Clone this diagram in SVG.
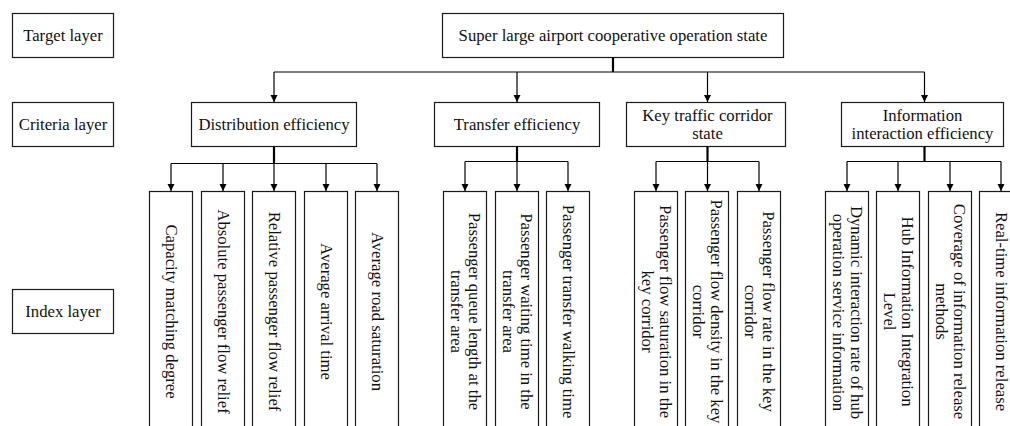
<svg xmlns="http://www.w3.org/2000/svg" width="1010" height="426" viewBox="0 0 1010 426">
<defs>
<marker id="ah" markerUnits="userSpaceOnUse" markerWidth="8" markerHeight="8" refX="7" refY="3.5" orient="auto"><path d="M0,0 L7,3.5 L0,7 z" fill="#000"/></marker>
<style>
rect{fill:#fff;stroke:#1a1a1a;stroke-width:1.2}
text{font-family:"Liberation Serif","Times New Roman",serif;font-size:16.7px;fill:#111;text-anchor:middle}
.c{fill:none;stroke:#000;stroke-width:1.2}
.s{fill:none;stroke:#000;stroke-width:2.2}
.a{marker-end:url(#ah)}
</style>
</defs>
<rect width="1010" height="426" style="fill:#fff;stroke:none"/>
<g id="layer-target"><rect x="12.5" y="13.5" width="101" height="44"/><text x="63" y="40.5">Target layer</text></g>
<g id="layer-criteria"><rect x="12.5" y="102.5" width="101" height="44"/><text x="63" y="129.5">Criteria layer</text></g>
<g id="layer-index"><rect x="12.5" y="289.5" width="101" height="44"/><text x="63" y="316.5">Index layer</text></g>

<g id="goal"><rect x="442.5" y="13.5" width="341" height="44"/><text x="613" y="40.5">Super large airport cooperative operation state</text></g>

<g id="c1"><rect x="191.5" y="102.5" width="165" height="44"/><text x="274" y="129.5">Distribution efficiency</text></g>
<g id="c2"><rect x="434.5" y="102.5" width="165" height="44"/><text x="517" y="129.5">Transfer efficiency</text></g>
<g id="c3"><rect x="626.5" y="102.5" width="159" height="44"/><text x="707.5" y="120.5">Key traffic corridor</text><text x="707.5" y="138.5">state</text></g>
<g id="c4"><rect x="841.5" y="102.5" width="162" height="44"/><text x="922.5" y="120.5">Information</text><text x="922.5" y="138.5">interaction efficiency</text></g>

<g id="i1"><rect x="149.5" y="191.5" width="43" height="250"/><text transform="translate(171,311.5) rotate(90)" y="5">Capacity matching degree</text></g>
<g id="i2"><rect x="201.5" y="191.5" width="43" height="250"/><text transform="translate(223,311.5) rotate(90)" y="5">Absolute passenger flow relief</text></g>
<g id="i3"><rect x="252.5" y="191.5" width="43" height="250"/><text transform="translate(274,311.5) rotate(90)" y="5">Relative passenger flow relief</text></g>
<g id="i4"><rect x="304.5" y="191.5" width="43" height="250"/><text transform="translate(326,311.5) rotate(90)" y="5">Average arrival time</text></g>
<g id="i5"><rect x="355.5" y="191.5" width="43" height="250"/><text transform="translate(377,311.5) rotate(90)" y="5">Average road saturation</text></g>

<g id="i6"><rect x="443.5" y="191.5" width="43" height="250"/><text transform="translate(465,311.5) rotate(90)"><tspan x="0" y="-4">Passenger queue length at the</tspan><tspan x="0" y="14.5">transfer area</tspan></text></g>
<g id="i7"><rect x="495.5" y="191.5" width="43" height="250"/><text transform="translate(517,311.5) rotate(90)"><tspan x="0" y="-4">Passenger waiting time in the</tspan><tspan x="0" y="14.5">transfer area</tspan></text></g>
<g id="i8"><rect x="546.5" y="191.5" width="43" height="250"/><text transform="translate(568,311.5) rotate(90)" y="5">Passenger transfer walking time</text></g>

<g id="i9"><rect x="634.5" y="191.5" width="43" height="250"/><text transform="translate(656,311.5) rotate(90)"><tspan x="0" y="-4">Passenger flow saturation in the</tspan><tspan x="0" y="14.5">key corridor</tspan></text></g>
<g id="i10"><rect x="685.5" y="191.5" width="43" height="250"/><text transform="translate(707,311.5) rotate(90)"><tspan x="0" y="-4">Passenger flow density in the key</tspan><tspan x="0" y="14.5">corridor</tspan></text></g>
<g id="i11"><rect x="737.5" y="191.5" width="43" height="250"/><text transform="translate(759,311.5) rotate(90)"><tspan x="0" y="-4">Passenger flow rate in the key</tspan><tspan x="0" y="14.5">corridor</tspan></text></g>

<g id="i12"><rect x="825.5" y="191.5" width="43" height="250"/><text transform="translate(847,312.5) rotate(90)"><tspan x="0" y="-4">Dynamic interaction rate of hub</tspan><tspan x="0" y="14.5">operation service information</tspan></text></g>
<g id="i13"><rect x="876.5" y="191.5" width="43" height="250"/><text transform="translate(898,311.5) rotate(90)"><tspan x="0" y="-4">Hub Information Integration</tspan><tspan x="0" y="14.5">Level</tspan></text></g>
<g id="i14"><rect x="928.5" y="191.5" width="43" height="250"/><text transform="translate(950,311.5) rotate(90)"><tspan x="0" y="-4">Coverage of information release</tspan><tspan x="0" y="14.5">methods</tspan></text></g>
<g id="i15"><rect x="979.5" y="191.5" width="43" height="250"/><text transform="translate(1001,311.5) rotate(90)" y="5">Real-time information release</text></g>

<g id="connectors">
<path class="s" d="M613,57.5 V72"/>
<path class="c" d="M274,72 H924.5"/>
<path class="c a" d="M274,72 V102"/>
<path class="c a" d="M517,72 V102"/>
<path class="c a" d="M707.5,72 V102"/>
<path class="c a" d="M924.5,72 V102"/>

<path class="s" d="M274,146.5 V163.5"/>
<path class="c" d="M171,163.5 H377"/>
<path class="c a" d="M171,163.5 V191"/>
<path class="c a" d="M223,163.5 V191"/>
<path class="c a" d="M274,163.5 V191"/>
<path class="c a" d="M326,163.5 V191"/>
<path class="c a" d="M377,163.5 V191"/>

<path class="s" d="M517,146.5 V161.5"/>
<path class="c" d="M465,161.5 H568"/>
<path class="c a" d="M465,161.5 V191"/>
<path class="c a" d="M517,161.5 V191"/>
<path class="c a" d="M568,161.5 V191"/>

<path class="s" d="M707.5,146.5 V161.5"/>
<path class="c" d="M656,161.5 H759"/>
<path class="c a" d="M656,161.5 V191"/>
<path class="c a" d="M707.5,161.5 V191"/>
<path class="c a" d="M759,161.5 V191"/>

<path class="s" d="M924.5,146.5 V161.5"/>
<path class="c" d="M847,161.5 H1001"/>
<path class="c a" d="M847,161.5 V191"/>
<path class="c a" d="M898,161.5 V191"/>
<path class="c a" d="M950,161.5 V191"/>
<path class="c a" d="M1001,161.5 V191"/>
</g>
</svg>
